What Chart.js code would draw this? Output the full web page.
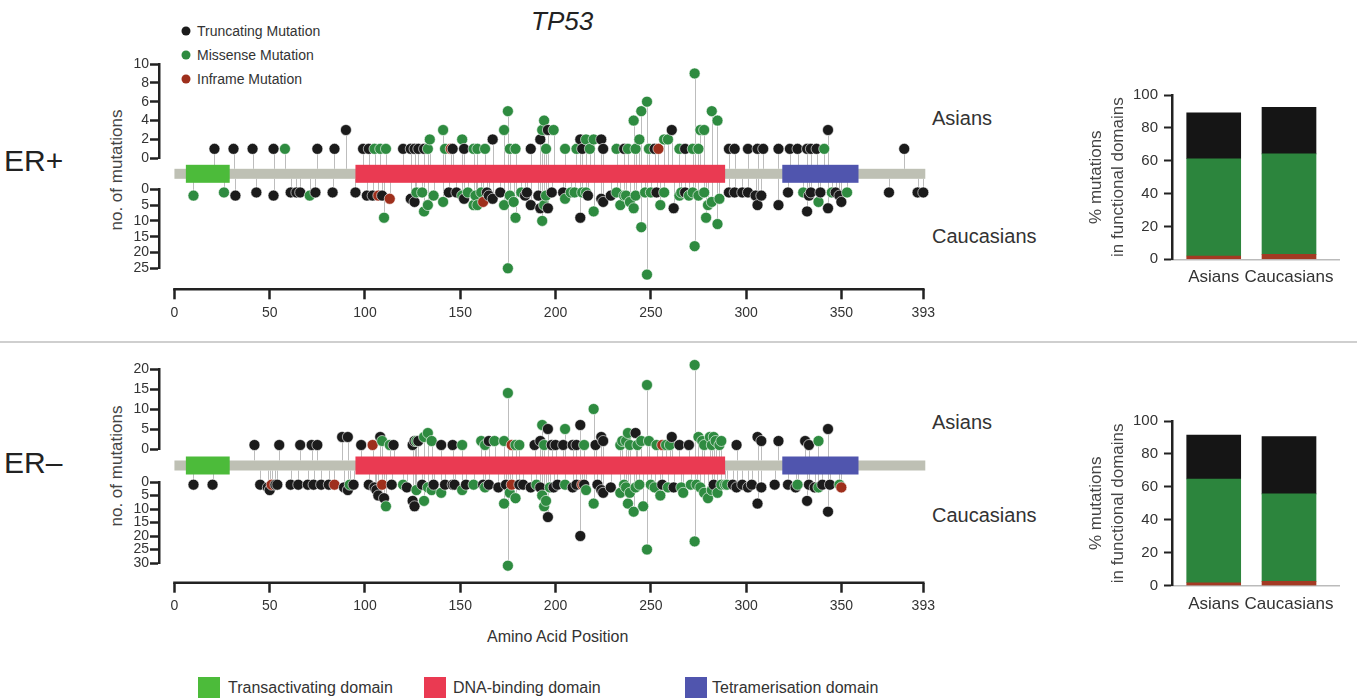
<!DOCTYPE html>
<html lang="en">
<head>
<meta charset="UTF-8">
<title>TP53 mutations by ER status</title>
<script src="https://cdn.jsdelivr.net/npm/chart.js@4"></script>
<style>
  body { margin: 0; background: #fff; font-family: 'Liberation Sans', Arial, sans-serif; color: #333; }
  #page { position: relative; width: 1363px; height: 700px; overflow: hidden; }
  .box { position: absolute; }
  .txt { position: absolute; white-space: nowrap; line-height: 1; transform: translateY(-50%); }
  .rot { position: absolute; white-space: nowrap; line-height: 1; transform: translate(-50%, -50%) rotate(-90deg); }
  .dot { position: absolute; width: 9px; height: 9px; border-radius: 50%; transform: translate(-50%, -50%); }
  .sq { position: absolute; width: 22px; height: 21px; }
</style>
</head>
<body>
<div id="page">
  <div class="txt" style="left:531px;top:21px;font-size:26px;font-style:italic;color:#222">TP53</div>

  <div class="dot" style="left:186px;top:31px;background:#1b1b1b"></div>
  <div class="txt" style="left:197px;top:31px;font-size:14px">Truncating Mutation</div>
  <div class="dot" style="left:186px;top:55px;background:#2e8b40"></div>
  <div class="txt" style="left:197px;top:55px;font-size:14px">Missense Mutation</div>
  <div class="dot" style="left:186px;top:79px;background:#9e2f1c"></div>
  <div class="txt" style="left:197px;top:79px;font-size:14px">Inframe Mutation</div>

  <div class="txt" style="left:4px;top:161px;font-size:30px;color:#222">ER+</div>
  <div class="rot" style="left:116px;top:170px;font-size:17px;color:#444">no. of mutations</div>
  <div class="txt" style="left:932px;top:118px;font-size:20px">Asians</div>
  <div class="txt" style="left:932px;top:236px;font-size:20px">Caucasians</div>

  <div class="box" style="left:0;top:341px;width:1357px;height:1.5px;background:#cfcfcf"></div>

  <div class="txt" style="left:4px;top:463px;font-size:30px;color:#222">ER–</div>
  <div class="rot" style="left:116px;top:466px;font-size:17px;color:#444">no. of mutations</div>
  <div class="txt" style="left:932px;top:422px;font-size:20px">Asians</div>
  <div class="txt" style="left:932px;top:515px;font-size:20px">Caucasians</div>

  <div class="txt" style="left:487px;top:637px;font-size:16px">Amino Acid Position</div>

  <div class="sq" style="left:198px;top:677px;background:#4cbb3a"></div>
  <div class="txt" style="left:228px;top:688px;font-size:16px">Transactivating domain</div>
  <div class="sq" style="left:424px;top:677px;background:#ea3a52"></div>
  <div class="txt" style="left:453px;top:688px;font-size:16px">DNA-binding domain</div>
  <div class="sq" style="left:685px;top:677px;background:#5055ae"></div>
  <div class="txt" style="left:712px;top:688px;font-size:16px">Tetramerisation domain</div>

  <canvas id="erPosTrack" class="box" style="left:100px;top:50px" width="840" height="280"></canvas>
  <canvas id="erNegTrack" class="box" style="left:100px;top:350px" width="840" height="280"></canvas>
  <canvas id="erPosShare" class="box" style="left:1060px;top:80px" width="300" height="220"></canvas>
  <canvas id="erNegShare" class="box" style="left:1060px;top:406px" width="300" height="220"></canvas>
</div>

<script>
// protein layout (amino acid positions)
const proteinLength = 393;
const aaTicks = [0, 50, 100, 150, 200, 250, 300, 350, 393];
const domainNames = ['Transactivating domain', 'DNA-binding domain', 'Tetramerisation domain'];
const domainStart = [6, 95, 319];
const domainEnd = [29, 289, 359];

// mutation type: T truncating, M missense, I inframe
const typeColors = { T: '#1b1b1b', M: '#2e8b40', I: '#9e2f1c' };

// [position, no. of mutations, type]
const erPosAsians = [
  [21,1,'T'],[31,1,'T'],[41,1,'T'],[52,1,'T'],[58,1,'M'],[75,1,'T'],[84,1,'T'],[90,3,'T'],
  [99,1,'T'],[102,1,'T'],[105,1,'M'],[108,1,'M'],[111,1,'M'],[120,1,'T'],[124,1,'T'],[126,1,'T'],
  [128,1,'T'],[131,1,'T'],[133,1,'M'],[134,2,'M'],[141,3,'M'],[142,1,'M'],[145,1,'I'],[146,1,'T'],
  [151,2,'M'],[152,1,'T'],[157,1,'M'],[159,1,'M'],[163,1,'M'],[167,2,'T'],[173,3,'M'],[175,5,'M'],
  [176,1,'M'],[179,1,'M'],[187,1,'T'],[192,2,'T'],[193,3,'M'],[194,4,'M'],[195,1,'M'],[196,3,'T'],
  [199,3,'M'],[205,1,'M'],[211,1,'M'],[213,2,'T'],[214,1,'T'],[216,2,'M'],[218,1,'M'],[220,2,'M'],
  [224,2,'T'],[225,1,'T'],[232,1,'M'],[236,1,'T'],[238,1,'M'],[241,4,'M'],[242,1,'M'],[244,2,'M'],
  [245,5,'M'],[248,6,'M'],[249,1,'M'],[252,1,'T'],[254,1,'I'],[257,2,'M'],[259,2,'M'],[261,3,'T'],
  [265,1,'M'],[268,1,'T'],[272,1,'M'],[273,9,'M'],[275,1,'M'],[276,3,'M'],[278,3,'M'],[282,5,'M'],
  [285,4,'M'],[291,1,'T'],[294,1,'T'],[301,1,'T'],[306,1,'T'],[309,1,'T'],[317,1,'T'],[323,1,'T'],
  [327,1,'T'],[332,1,'T'],[334,1,'T'],[337,1,'T'],[341,1,'M'],[343,3,'T'],[383,1,'T']
];
const erPosCaucasians = [
  [10,2,'M'],[26,1,'M'],[32,2,'T'],[43,1,'T'],[52,2,'T'],[61,1,'T'],[64,1,'T'],[66,1,'T'],
  [71,2,'M'],[74,1,'T'],[83,1,'T'],[95,1,'T'],[101,2,'T'],[104,2,'T'],[107,2,'I'],[109,2,'T'],
  [110,9,'M'],[113,3,'I'],[124,3,'T'],[126,4,'T'],[127,1,'M'],[130,1,'M'],[131,7,'M'],[133,5,'M'],
  [136,2,'M'],[141,4,'M'],[144,1,'T'],[148,1,'T'],[151,2,'M'],[152,3,'T'],[154,1,'M'],[157,5,'M'],
  [158,2,'M'],[159,5,'M'],[161,1,'M'],[162,4,'I'],[164,1,'T'],[165,2,'T'],[167,3,'T'],[171,1,'T'],
  [173,5,'M'],[175,25,'M'],[176,2,'M'],[178,4,'M'],[179,9,'M'],[182,1,'M'],[184,2,'T'],[185,1,'T'],
  [187,5,'T'],[191,2,'T'],[192,6,'T'],[193,10,'M'],[194,5,'M'],[195,2,'M'],[196,6,'T'],[198,1,'T'],
  [204,1,'T'],[205,3,'M'],[208,1,'M'],[210,1,'M'],[213,9,'T'],[214,1,'M'],[216,1,'M'],[217,2,'T'],
  [220,7,'M'],[224,3,'T'],[225,4,'T'],[229,2,'T'],[232,1,'M'],[234,5,'M'],[236,2,'M'],[237,2,'M'],
  [239,4,'M'],[241,6,'M'],[242,2,'M'],[245,12,'M'],[247,1,'M'],[248,27,'M'],[250,1,'M'],[253,1,'T'],
  [255,5,'M'],[257,1,'M'],[262,6,'T'],[265,2,'M'],[266,1,'M'],[268,1,'T'],[270,2,'M'],[272,1,'M'],
  [273,18,'M'],[275,2,'M'],[278,1,'M'],[279,9,'M'],[280,5,'M'],[282,4,'M'],[285,11,'M'],[286,3,'M'],
  [291,1,'T'],[294,1,'T'],[298,1,'T'],[301,1,'T'],[305,2,'T'],[306,5,'T'],[308,2,'T'],[317,5,'T'],
  [322,1,'T'],[330,1,'M'],[332,7,'T'],[333,2,'T'],[334,1,'T'],[338,4,'M'],[339,1,'T'],[343,6,'T'],
  [345,1,'M'],[347,1,'T'],[349,2,'T'],[350,4,'T'],[353,1,'M'],[375,1,'T'],[390,1,'T'],[393,1,'T']
];
const erNegAsians = [
  [42,1,'T'],[55,1,'T'],[66,1,'T'],[72,1,'T'],[75,1,'T'],[88,3,'T'],[91,3,'T'],[98,1,'T'],
  [104,1,'I'],[108,3,'T'],[109,2,'M'],[113,1,'M'],[115,1,'T'],[125,1,'T'],[126,2,'T'],[127,2,'M'],
  [128,2,'T'],[131,3,'M'],[133,4,'M'],[135,2,'M'],[140,1,'T'],[146,1,'T'],[151,1,'M'],[161,2,'M'],
  [163,1,'M'],[165,2,'T'],[168,2,'M'],[173,2,'M'],[175,14,'M'],[177,1,'I'],[179,1,'M'],[181,1,'M'],
  [189,1,'T'],[192,2,'T'],[193,6,'M'],[194,1,'M'],[196,5,'T'],[198,1,'T'],[200,1,'T'],[204,1,'T'],
  [205,5,'M'],[209,1,'T'],[211,1,'T'],[213,6,'T'],[215,1,'M'],[220,10,'M'],[221,1,'T'],[224,3,'T'],
  [225,2,'T'],[234,1,'M'],[235,2,'M'],[237,2,'M'],[238,4,'M'],[239,1,'M'],[242,4,'T'],[243,1,'M'],
  [245,2,'M'],[248,16,'M'],[249,2,'M'],[253,1,'M'],[256,1,'I'],[258,1,'M'],[260,1,'M'],[261,3,'T'],
  [265,1,'T'],[270,1,'T'],[273,21,'M'],[275,3,'M'],[277,2,'M'],[278,1,'M'],[281,3,'M'],[282,1,'M'],
  [283,3,'M'],[284,2,'M'],[286,1,'M'],[287,2,'M'],[295,1,'T'],[306,3,'T'],[308,2,'T'],[317,2,'T'],
  [331,2,'T'],[333,1,'T'],[338,2,'M'],[343,5,'T']
];
const erNegCaucasians = [
  [10,1,'T'],[20,1,'T'],[45,1,'T'],[49,2,'T'],[50,3,'T'],[51,1,'I'],[53,1,'T'],[54,1,'T'],
  [61,1,'T'],[65,1,'T'],[70,1,'T'],[73,1,'T'],[77,1,'T'],[81,1,'T'],[84,1,'I'],[89,2,'T'],
  [91,3,'T'],[92,1,'M'],[94,1,'T'],[102,1,'T'],[105,2,'T'],[106,3,'T'],[107,5,'T'],[109,1,'I'],
  [110,6,'T'],[111,9,'M'],[114,1,'T'],[120,1,'M'],[122,2,'T'],[125,7,'T'],[126,9,'T'],[127,3,'M'],
  [130,1,'T'],[131,7,'M'],[133,2,'M'],[135,3,'M'],[136,1,'T'],[140,4,'M'],[142,1,'T'],[146,1,'T'],
  [147,1,'T'],[151,3,'M'],[153,1,'T'],[157,1,'M'],[162,1,'T'],[163,2,'M'],[165,1,'T'],[170,2,'T'],
  [173,8,'M'],[174,1,'T'],[175,31,'M'],[176,4,'M'],[177,1,'I'],[179,6,'M'],[181,1,'T'],[183,1,'T'],
  [187,2,'T'],[190,1,'M'],[192,2,'T'],[193,5,'M'],[194,9,'M'],[195,7,'M'],[196,13,'T'],[197,2,'M'],
  [199,2,'T'],[201,1,'T'],[205,1,'M'],[209,2,'T'],[211,1,'T'],[213,20,'T'],[214,1,'I'],[215,1,'T'],
  [216,3,'M'],[220,8,'M'],[222,1,'T'],[224,3,'T'],[225,4,'T'],[229,2,'T'],[234,4,'M'],[236,1,'M'],
  [237,2,'M'],[238,8,'M'],[239,4,'M'],[241,11,'M'],[242,2,'M'],[244,1,'M'],[246,9,'M'],[248,25,'M'],
  [250,1,'M'],[252,2,'M'],[255,5,'M'],[256,1,'T'],[259,2,'M'],[262,2,'T'],[266,2,'M'],[267,4,'M'],
  [271,1,'M'],[273,22,'M'],[274,1,'M'],[276,2,'M'],[278,4,'M'],[280,6,'M'],[282,3,'M'],[283,1,'T'],
  [285,4,'M'],[287,1,'M'],[289,1,'M'],[290,1,'M'],[293,1,'T'],[295,2,'T'],[298,1,'T'],[301,2,'T'],
  [303,1,'T'],[306,8,'T'],[308,2,'T'],[315,1,'T'],[322,1,'T'],[326,2,'T'],[327,1,'M'],[332,7,'T'],
  [333,1,'T'],[336,2,'T'],[338,2,'M'],[340,1,'T'],[343,11,'T'],[344,1,'T'],[349,1,'M'],[350,2,'I']
];

// count axes: ticks for the Asian (upper) and Caucasian (lower) halves
const erPosUpperTicks = [0, 2, 4, 6, 8, 10];
const erPosLowerTicks = [0, 5, 10, 15, 20, 25];
const erNegUpperTicks = [0, 5, 10, 15, 20];
const erNegLowerTicks = [0, 5, 10, 15, 20, 25, 30];

// % of mutations falling in functional domains
const groupLabels = ['Asians', 'Caucasians'];
const erPosInframe = [2.0, 3.0];
const erPosMissense = [59.2, 61.2];
const erPosTruncating = [27.9, 28.3];
const erNegInframe = [1.8, 2.6];
const erNegMissense = [63.0, 53.2];
const erNegTruncating = [26.7, 34.7];
const shareTicks = [0, 20, 40, 60, 80, 100];

const FONT = "'Liberation Sans', Arial, sans-serif";
Chart.defaults.font.family = FONT;
Chart.defaults.color = '#333';

const domainColors = ['#4cbb3a', '#ea3a52', '#5055ae'];
const backboneColor = '#bec0b4';
const stemColor = '#bdbdbd';
const axisColor = '#222';

// protein backbone, domains, stems and the 0..393 axis line
const proteinTrack = {
  id: 'proteinTrack',
  beforeDatasetsDraw(chart) {
    const { ctx } = chart;
    const x = chart.scales.x;
    const mid = chart.scales.yMid;
    const cy = mid.getPixelForValue(0);
    ctx.save();
    ctx.strokeStyle = stemColor;
    ctx.lineWidth = 1;
    chart.data.datasets.forEach((ds, i) => {
      const edge = ds.yAxisID === 'yA' ? cy - 5 : cy + 5;
      chart.getDatasetMeta(i).data.forEach(pt => {
        ctx.beginPath();
        ctx.moveTo(Math.round(pt.x) + 0.5, edge);
        ctx.lineTo(Math.round(pt.x) + 0.5, pt.y);
        ctx.stroke();
      });
    });
    const x0 = x.getPixelForValue(0);
    const x1 = x.getPixelForValue(proteinLength);
    ctx.fillStyle = backboneColor;
    ctx.fillRect(x0, cy - 5, x1 - x0 + 2, 10);
    domainStart.forEach((s, i) => {
      const a = x.getPixelForValue(s);
      const b = x.getPixelForValue(domainEnd[i]);
      ctx.fillStyle = domainColors[i];
      ctx.fillRect(a, cy - 9, b - a, 18);
    });
    ctx.strokeStyle = axisColor;
    ctx.lineWidth = 2.5;
    ctx.beginPath();
    ctx.moveTo(x0 - 1.25, x.top);
    ctx.lineTo(x1 + 1.25, x.top);
    ctx.stroke();
    ctx.restore();
  }
};

function countAxis(ticks, weight, order, reverse) {
  return {
    type: 'linear', position: 'left', stack: 'track', stackWeight: weight, weight: order,
    min: 0, max: ticks[ticks.length - 1], reverse: reverse,
    afterBuildTicks: s => { s.ticks = ticks.map(v => ({ value: v })); },
    afterFit: s => { s.width = 59; },
    border: { color: axisColor, width: 2.5 },
    grid: { drawOnChartArea: false, tickLength: 9, tickWidth: 2.5, tickColor: axisColor },
    ticks: { padding: 1, autoSkip: false, font: { size: 14 }, color: '#333' }
  };
}

function mutationTrack(id, asians, caucasians, upperTicks, lowerTicks, weights, pad) {
  const points = rows => rows.map(r => ({ x: r[0], y: r[1] }));
  const dotStyle = rows => ({
    pointRadius: 5.5,
    pointHoverRadius: 5.5,
    pointBackgroundColor: rows.map(r => typeColors[r[2]]),
    pointBorderColor: 'rgba(255,255,255,0.6)',
    pointBorderWidth: 1,
    showLine: false,
    clip: false
  });
  new Chart(document.getElementById(id), {
    type: 'scatter',
    data: {
      datasets: [
        Object.assign({ label: 'Asians', data: points(asians), yAxisID: 'yA' }, dotStyle(asians)),
        Object.assign({ label: 'Caucasians', data: points(caucasians), yAxisID: 'yC' }, dotStyle(caucasians))
      ]
    },
    options: {
      responsive: false,
      animation: false,
      events: [],
      layout: { padding: pad },
      plugins: { legend: { display: false }, tooltip: { enabled: false } },
      scales: {
        x: {
          type: 'linear', min: -8.1, max: 394,
          afterBuildTicks: s => { s.ticks = aaTicks.map(v => ({ value: v })); },
          afterFit: s => { s.height = 34; },
          border: { display: false },
          grid: { drawOnChartArea: false, tickLength: 10, tickWidth: 2.5, tickColor: axisColor },
          ticks: { padding: 5, autoSkip: false, maxRotation: 0, font: { size: 14 }, color: '#333' }
        },
        yA: countAxis(upperTicks, weights[0], 4, false),
        yMid: { type: 'linear', position: 'left', stack: 'track', stackWeight: weights[1], weight: 3, min: -1, max: 1, display: false },
        yC: countAxis(lowerTicks, weights[2], 2, true),
        yPad: { type: 'linear', position: 'left', stack: 'track', stackWeight: weights[3], weight: 1, min: 0, max: 1, display: false }
      }
    },
    plugins: [proteinTrack]
  });
}

function domainShare(id, inframe, missense, truncating, pad) {
  const series = (label, values, color) => ({
    label: label,
    data: values.map((v, i) => ({ x: i, y: v })),
    backgroundColor: color,
    borderWidth: 0,
    barThickness: 54
  });
  new Chart(document.getElementById(id), {
    type: 'bar',
    data: {
      datasets: [
        series('Inframe Mutation', inframe, '#a33a23'),
        series('Missense Mutation', missense, '#2c853d'),
        series('Truncating Mutation', truncating, '#151515')
      ]
    },
    options: {
      responsive: false,
      animation: false,
      events: [],
      layout: { padding: pad },
      plugins: { legend: { display: false }, tooltip: { enabled: false } },
      scales: {
        x: {
          type: 'linear', stacked: true, offset: false, min: -0.554, max: 1.664,
          afterBuildTicks: s => { s.ticks = groupLabels.map((g, i) => ({ value: i })); },
          afterFit: s => { s.height = 36; },
          border: { color: '#bbb', width: 1.5 },
          grid: { display: false, drawTicks: false, offset: false },
          ticks: { padding: 8, autoSkip: false, maxRotation: 0, font: { size: 17 }, color: '#333',
                   callback: v => groupLabels[v] }
        },
        y: {
          stacked: true, min: 0, max: 100,
          afterBuildTicks: s => { s.ticks = shareTicks.map(v => ({ value: v })); },
          afterFit: s => { s.width = 112; },
          border: { color: axisColor, width: 2.5 },
          grid: { drawOnChartArea: false, tickLength: 8, tickWidth: 2, tickColor: axisColor },
          ticks: { padding: 6, autoSkip: false, font: { size: 15 }, color: '#333' },
          title: {
            display: true, text: ['% mutations', 'in functional domains'],
            font: { size: 17, lineHeight: 1.25 }, color: '#444', padding: { top: 26, bottom: 0 }
          }
        }
      }
    }
  });
}

mutationTrack('erPosTrack', erPosAsians, erPosCaucasians, erPosUpperTicks, erPosLowerTicks,
  [94.3, 31, 79, 21], { top: 14, right: 12.6, bottom: 6.7, left: 0 });
mutationTrack('erNegTrack', erNegAsians, erNegCaucasians, erNegUpperTicks, erNegLowerTicks,
  [80, 33, 81, 19.7], { top: 19, right: 12.6, bottom: 13.3, left: 0 });

domainShare('erPosShare', erPosInframe, erPosMissense, erPosTruncating, { top: 14.3, right: 21, bottom: 4.7, left: 0 });
domainShare('erNegShare', erNegInframe, erNegMissense, erNegTruncating, { top: 14.7, right: 21, bottom: 4.3, left: 0 });
</script>
</body>
</html>
